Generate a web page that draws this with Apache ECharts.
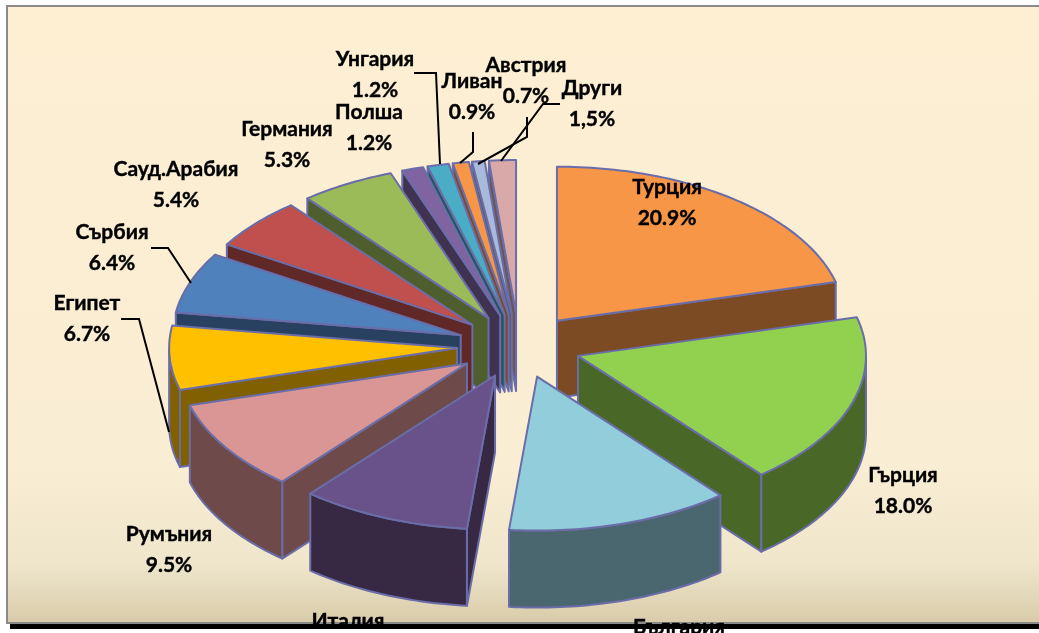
<!DOCTYPE html>
<html>
<head>
<meta charset="utf-8">
<style>
  html, body { margin: 0; padding: 0; background: #fff; }
  #pie-chart { width: 1039px; height: 633px; }
</style>
<script src="https://cdn.jsdelivr.net/npm/echarts@6/dist/echarts.min.js"></script>
</head>
<body>
<div id="pie-chart"></div>
<script>
// values in percent, clockwise from 12 o'clock
var categories = ['Турция', 'Гърция', 'България', 'Италия', 'Румъния', 'Египет', 'Сърбия', 'Сауд.Арабия', 'Германия', 'Полша', 'Унгария', 'Ливан', 'Австрия', 'Други'];
var shares = [20.9, 18.0, 12.5, 9.5, 9.5, 6.7, 6.4, 5.4, 5.3, 1.2, 1.2, 0.9, 0.7, 1.5];
// the last line of Bulgaria and Italy is cut off in the picture
var shareLabels = ['20.9%', '18.0%', '', '', '9.5%', '6.7%', '6.4%', '5.4%', '5.3%', '1.2%', '1.2%', '0.9%', '0.7%', '1,5%'];

// styling
var topColors = ['#F79646', '#92D050', '#92CDDC', '#695289', '#D99694', '#FFC000', '#4F81BD', '#C0504D', '#9BBB59', '#8064A2', '#4BACC6', '#F79646', '#A9B9DA', '#D9A9A9'];
var sideColors = ['#7C4B23', '#496828', '#4A666E', '#372944', '#6E4B4A', '#806000', '#284160', '#602827', '#4E5E2D', '#403251', '#265663', '#7C4B23', '#555D6D', '#6D5555'];
var labelCenters = [[667, 203], [903, 491], [679, 643], [348, 637], [169, 550], [87, 319], [112, 248], [176, 185], [287, 145], [369, 128], [375, 75], [472, 97], [526, 81], [592, 104]];
var leaderLines = [
  [[414, 73], [436, 73], [440, 164]],
  [[473, 132], [473, 152], [460, 163]],
  [[527, 117], [527, 137], [478, 164]],
  [[560, 104], [543, 104], [501, 161]],
  [[151, 248], [168, 248], [191, 283]],
  [[121, 319], [139, 319], [169, 432]]
];

var pie = { cx: 519, cy: 346, rx: 288, ry: 154, depth: 77, explodeX: 62, explodeY: 32 };
var edgeColor = '#6A6DA8';
var fontFamily = 'Lato, "Open Sans", sans-serif';

var total = shares.reduce(function (a, b) { return a + b; }, 0);

// start and end angle of every slice, exploded tip position
var slices = [];
var running = 0;
shares.forEach(function (v, i) {
  var a0 = echarts.number.linearMap(running, [0, total], [0, Math.PI * 2]);
  running += v;
  var a1 = echarts.number.linearMap(running, [0, total], [0, Math.PI * 2]);
  var mid = (a0 + a1) / 2;
  slices.push({
    index: i,
    a0: a0,
    a1: a1,
    x: pie.cx + pie.explodeX * Math.sin(mid),
    y: pie.cy - pie.explodeY * Math.cos(mid)
  });
});
// painter's order: the slices further back first
var paintOrder = slices.slice().sort(function (a, b) { return a.y - b.y; });

function rimPoint (s, a, dy) {
  return [s.x + pie.rx * Math.sin(a), s.y - pie.ry * Math.cos(a) + dy];
}

function face (points, color) {
  return {
    type: 'polygon',
    shape: { points: points },
    style: { fill: color, stroke: edgeColor, lineWidth: 2, lineJoin: 'round' }
  };
}

function renderSlice (params, api) {
  var s = slices[api.value(0)];
  var i = s.index;
  var d = pie.depth;
  var tip = [s.x, s.y];
  var tipLow = [s.x, s.y + d];
  var rimTop = [];
  var rimFront = [];
  var steps = Math.max(4, Math.ceil((s.a1 - s.a0) / 0.02));
  for (var k = 0; k <= steps; k++) {
    var a = s.a0 + (s.a1 - s.a0) * k / steps;
    rimTop.push(rimPoint(s, a, 0));
    // outer wall only on the lower half of the ellipse
    if (Math.cos(a) < 0) rimFront.push(a);
  }
  var children = [];
  // only the cut faces turned to the viewer get drawn
  if (Math.sin(s.a0) < 0) {
    children.push(face([tip, rimPoint(s, s.a0, 0), rimPoint(s, s.a0, d), tipLow], sideColors[i]));
  }
  if (Math.sin(s.a1) > 0) {
    children.push(face([tip, rimPoint(s, s.a1, 0), rimPoint(s, s.a1, d), tipLow], sideColors[i]));
  }
  if (rimFront.length > 1) {
    var upper = rimFront.map(function (a) { return rimPoint(s, a, 0); });
    var lower = rimFront.map(function (a) { return rimPoint(s, a, d); });
    children.push(face(upper.concat(lower.reverse()), sideColors[i]));
  }
  children.push(face([tip].concat(rimTop), topColors[i]));
  return { type: 'group', children: children };
}

var graphics = [
  // frame with the shadow under it
  { type: 'rect', z: 0, shape: { x: 10, y: 624, width: 1029, height: 5 }, style: { fill: '#000' } },
  {
    type: 'rect', z: 0,
    shape: { x: 7, y: 6, width: 1040, height: 617 },
    style: {
      stroke: '#8A8A8A',
      lineWidth: 2,
      fill: new echarts.graphic.LinearGradient(0, 0, 0, 1, [
        { offset: 0, color: '#FEEFD3' },
        { offset: 0.75, color: '#F9EDD3' },
        { offset: 0.9, color: '#EFE6CC' },
        { offset: 1, color: '#D8CBA9' }
      ])
    }
  }
];
leaderLines.forEach(function (line) {
  graphics.push({
    type: 'polyline', z: 20,
    shape: { points: line },
    style: { stroke: '#000', lineWidth: 2, fill: null }
  });
});
categories.forEach(function (name, i) {
  graphics.push({
    type: 'text', z: 30,
    x: labelCenters[i][0],
    y: labelCenters[i][1],
    style: {
      text: name + '\n' + shareLabels[i],
      fill: '#000',
      stroke: '#000',
      lineWidth: 0.4,
      font: 'bold 21px ' + fontFamily,
      lineHeight: 31,
      align: 'center',
      verticalAlign: 'middle'
    }
  });
});

var chart = echarts.init(document.getElementById('pie-chart'));
chart.setOption({
  animation: false,
  graphic: graphics,
  series: [{
    type: 'custom',
    coordinateSystem: 'none',
    silent: true,
    z: 10,
    renderItem: renderSlice,
    data: paintOrder.map(function (s) { return [s.index]; })
  }]
});
</script>
</body>
</html>
